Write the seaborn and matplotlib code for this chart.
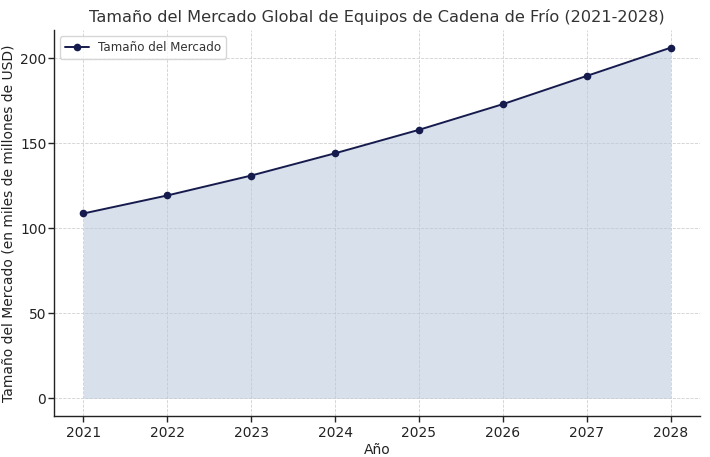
import matplotlib
matplotlib.use("Agg")
import matplotlib.pyplot as plt
import seaborn as sns
import pandas as pd

years = [2021, 2022, 2023, 2024, 2025, 2026, 2027, 2028]
market_size = [108.7, 119.3, 131.0, 144.1, 157.9, 173.0, 189.6, 206.2]
title = "Tamaño del Mercado Global de Equipos de Cadena de Frío (2021-2028)"
xlabel = "Año"
ylabel = "Tamaño del Mercado (en miles de millones de USD)"
series_label = "Tamaño del Mercado"

df = pd.DataFrame({"year": years, "size": market_size})

sns.set_theme(style="whitegrid")
plt.rcParams['font.family'] = ['DejaVu Sans']

fig, ax = plt.subplots(figsize=(7.1, 4.57), dpi=100)
ax.fill_between(df["year"], df["size"], color="#b8c7dc", alpha=0.55, linewidth=0)
sns.lineplot(data=df, x="year", y="size", marker="o", color="#161b4d",
             linewidth=1.4, markersize=5.5, markeredgewidth=0, label=series_label, ax=ax)

ax.set_title(title, fontsize=11.6, color="#333333", pad=6)
ax.set_xlabel(xlabel, fontsize=10, color="#222222", labelpad=2)
ax.set_ylabel(ylabel, fontsize=10, color="#222222", labelpad=3)
ax.set_xticks(years)
ax.tick_params(axis="both", labelsize=10, colors="#222222", length=4, width=1, left=True, bottom=True)
ax.tick_params(axis="y", pad=1.5)
ax.grid(True, linestyle="--", linewidth=0.6, color="#d0d0d0")
ax.set_facecolor("white")
for s in ["top", "right"]:
    ax.spines[s].set_visible(False)
for s in ["left", "bottom"]:
    ax.spines[s].set_color("#222222")
    ax.spines[s].set_linewidth(1.0)
leg = ax.legend(loc="upper left", fontsize=8.6, frameon=True)
leg.get_frame().set_edgecolor("#cccccc")
for t in leg.get_texts():
    t.set_color("#333333")

fig.subplots_adjust(left=0.076, right=0.986, top=0.934, bottom=0.09)
fig.savefig("out.png", dpi=100)
